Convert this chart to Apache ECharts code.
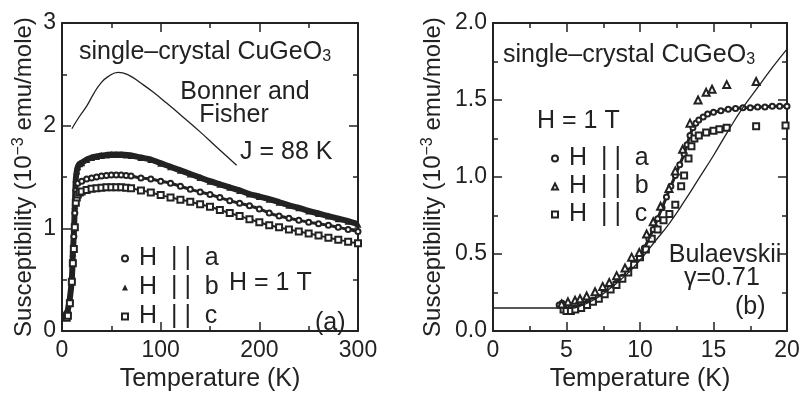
<!DOCTYPE html>
<html>
<head>
<meta charset="utf-8">
<script src="https://cdn.jsdelivr.net/npm/echarts@6/dist/echarts.min.js"></script>
<style>
  html, body { margin: 0; background: #fff; }
  #chart { width: 806px; height: 397px; }
</style>
</head>
<body>
<div id="chart"></div>
<script>
// panel (a): 0-300 K, [T, chi] pairs
const leftA = [[4.5,0.17],[6,0.16],[8,0.28],[10,0.49],[11,0.68],[12,0.92],[13,1.15],[14,1.37],[16,1.44],[20,1.46],[25,1.48],[30,1.49],[35,1.5],[40,1.51],[45,1.515],[50,1.52],[55,1.52],[60,1.52],[65,1.515],[70,1.51],[80,1.49],[90,1.48],[100,1.46],[110,1.44],[120,1.41],[130,1.38],[140,1.355],[150,1.33],[160,1.3],[170,1.27],[180,1.245],[190,1.22],[200,1.19],[210,1.15],[220,1.12],[230,1.1],[240,1.08],[250,1.06],[260,1.045],[270,1.03],[280,1.01],[290,0.99],[300,0.97]]
const leftB = [[4.6,0.17],[6,0.21],[8,0.32],[10,0.51],[11,0.76],[12,0.95],[13,1.22],[14,1.48],[15,1.56],[16,1.6],[18,1.63],[20,1.64],[25,1.67],[30,1.69],[35,1.7],[40,1.71],[45,1.715],[50,1.72],[55,1.72],[60,1.72],[65,1.715],[70,1.71],[80,1.69],[90,1.67],[100,1.635],[110,1.6],[120,1.565],[130,1.53],[140,1.495],[150,1.46],[160,1.43],[170,1.4],[180,1.37],[190,1.335],[200,1.31],[210,1.285],[220,1.255],[230,1.225],[240,1.2],[250,1.17],[260,1.145],[270,1.12],[280,1.095],[290,1.07],[300,1.04]]
const leftC = [[4.8,0.13],[6,0.15],[8,0.27],[10,0.48],[11,0.66],[12,0.8],[13,1.01],[14,1.25],[15,1.3],[16,1.33],[18,1.35],[20,1.36],[25,1.375],[30,1.385],[35,1.39],[40,1.395],[45,1.4],[50,1.4],[55,1.4],[60,1.4],[65,1.395],[70,1.39],[80,1.37],[90,1.35],[100,1.325],[110,1.3],[120,1.28],[130,1.26],[140,1.235],[150,1.21],[160,1.18],[170,1.15],[180,1.12],[190,1.09],[200,1.06],[210,1.03],[220,1.01],[230,0.99],[240,0.97],[250,0.95],[260,0.93],[270,0.91],[280,0.89],[290,0.87],[300,0.855]]
const bonnerFisher = [[10,1.97],[17,2.08],[25,2.19],[32,2.31],[39,2.41],[47,2.48],[57,2.52],[68,2.49],[79,2.42],[92,2.33],[106,2.22],[122,2.09],[140,1.94],[158,1.78],[177,1.615]]

// panel (b): 0-20 K
const rightA = [[4.5,0.17],[4.7,0.18],[5,0.16],[5.3,0.15],[5.6,0.15],[6,0.16],[6.4,0.18],[6.8,0.2],[7.2,0.22],[7.6,0.25],[8,0.28],[8.4,0.31],[8.8,0.35],[9.2,0.39],[9.6,0.44],[10,0.49],[10.3,0.54],[10.6,0.6],[10.9,0.66],[11.2,0.73],[11.5,0.8],[11.8,0.87],[12.1,0.94],[12.4,1.01],[12.7,1.08],[13,1.15],[13.2,1.21],[13.4,1.27],[13.6,1.32],[13.8,1.35],[14,1.37],[14.3,1.39],[14.6,1.41],[15,1.42],[15.5,1.43],[16,1.44],[16.5,1.445],[17,1.45],[17.5,1.45],[18,1.455],[18.5,1.455],[19,1.46],[19.5,1.46],[20,1.46]]
const rightB = [[4.67,0.176],[5.1,0.19],[5.58,0.2],[5.92,0.21],[6.37,0.228],[6.94,0.255],[7.46,0.29],[7.91,0.315],[8.41,0.36],[8.98,0.41],[9.43,0.48],[9.95,0.51],[10.45,0.63],[10.9,0.71],[11.4,0.81],[11.97,0.925],[12.4,1.04],[12.9,1.18],[13.4,1.35],[13.95,1.5],[14.5,1.55],[14.9,1.57],[15.9,1.6],[17.9,1.62]]
const rightC = [[4.8,0.14],[5,0.13],[5.3,0.13],[5.6,0.14],[6,0.15],[6.4,0.17],[6.8,0.19],[7.2,0.21],[7.6,0.24],[8,0.27],[8.4,0.3],[8.8,0.34],[9.2,0.38],[9.6,0.43],[10,0.48],[10.4,0.53],[10.8,0.6],[11.2,0.66],[11.6,0.72],[12,0.76],[12.4,0.82],[12.8,0.94],[13,1.01],[13.3,1.12],[13.5,1.2],[13.7,1.25],[14,1.27],[14.5,1.29],[15,1.3],[15.4,1.31],[15.9,1.32],[17.9,1.33],[19.9,1.335]]
const bulaevskii = [[0,0.15],[5.3,0.15],[6,0.165],[7,0.21],[8,0.28],[9,0.36],[10,0.46],[11,0.58],[12,0.7],[13,0.84],[14,0.99],[15,1.14],[16,1.3],[17,1.45],[18,1.58],[19,1.71],[20,1.83]]

const NAME_A = 'H  | |  a'
const NAME_B = 'H  | |  b'
const NAME_C = 'H  | |  c'

const INK = '#222'
const FONT = 'Liberation Sans'

const chart = echarts.init(document.getElementById('chart'), null, { renderer: 'canvas' })

const yName = '{t|Susceptibility (10}{s|−3}{t| emu/mole)}'
const yNameStyle = {
  fontFamily: FONT,
  color: INK,
  rich: {
    t: { fontSize: 24, fontFamily: FONT, color: INK, lineHeight: 26 },
    s: { fontSize: 16, fontFamily: FONT, color: INK, lineHeight: 8, verticalAlign: 'top' },
  },
}

function xAxisBox(gridIndex, min, max, interval, top) {
  return {
    type: 'value', gridIndex, min, max, interval,
    position: top ? 'top' : 'bottom',
    name: top ? '' : 'Temperature (K)',
    nameLocation: 'middle', nameGap: 30,
    nameTextStyle: { fontSize: 25, fontFamily: FONT, color: INK },
    axisLine: { show: true, onZero: false, lineStyle: { color: INK, width: 2 } },
    axisTick: { show: true, inside: true, length: 9, lineStyle: { color: INK, width: 1.5 } },
    minorTick: { show: true, splitNumber: 2, length: 5, lineStyle: { color: INK, width: 1.5 } },
    axisLabel: { show: !top, fontSize: 23, fontFamily: FONT, color: INK, margin: 8 },
    splitLine: { show: false },
  }
}

function yAxisBox(gridIndex, min, max, interval, right, fmt, gap) {
  return {
    type: 'value', gridIndex, min, max, interval,
    position: right ? 'right' : 'left',
    name: right ? '' : yName,
    nameLocation: 'middle', nameRotate: 90, nameGap: gap,
    nameTextStyle: yNameStyle,
    axisLine: { show: true, onZero: false, lineStyle: { color: INK, width: 2 } },
    axisTick: { show: true, inside: true, length: 9, lineStyle: { color: INK, width: 1.5 } },
    minorTick: { show: true, splitNumber: 2, length: 5, lineStyle: { color: INK, width: 1.5 } },
    axisLabel: { show: !right, fontSize: 23, fontFamily: FONT, color: INK, margin: 6, formatter: fmt },
    splitLine: { show: false },
  }
}

// thick band behind the markers, as the measured points overlap heavily
function band(data, xi, width) {
  return {
    type: 'line', xAxisIndex: xi, yAxisIndex: xi, data,
    symbol: 'none', smooth: 0.3, silent: true,
    lineStyle: { color: INK, width },
    z: 2,
  }
}

function marks(name, data, xi, symbol, size) {
  return {
    type: 'scatter', name, xAxisIndex: xi, yAxisIndex: xi, data,
    symbol, symbolSize: size, silent: true,
    itemStyle: { color: INK, borderWidth: 1, opacity: 1 },
    z: 3,
  }
}

function legendBox(left, top, gap, triIcon) {
  return {
    orient: 'vertical', left, top, itemGap: gap,
    itemWidth: 6, itemHeight: 6, selectedMode: false,
    textStyle: { fontSize: 25, fontFamily: FONT, color: INK, padding: [0, 0, 0, 6] },
    data: [
      { name: NAME_A, icon: 'emptyCircle' },
      { name: NAME_B, icon: triIcon },
      { name: NAME_C, icon: 'emptyRect' },
    ],
  }
}

function label(text, x, y, align, rich) {
  return {
    type: 'text', x, y, silent: true,
    style: {
      text, x: 0, y: 0, align: align || 'left', verticalAlign: 'middle',
      fontSize: 25, fontFamily: FONT, fill: INK, rich,
    },
  }
}

const subRich = {
  t: { fontSize: 25, fontFamily: FONT, fill: INK, lineHeight: 26 },
  s: { fontSize: 16, fontFamily: FONT, fill: INK, lineHeight: 8, verticalAlign: 'bottom' },
}

const option = {
  animation: false,
  backgroundColor: '#fff',
  grid: [
    { left: 62, top: 23, width: 296, height: 322 },
    { left: 493, top: 23, width: 294, height: 322 },
  ],
  xAxis: [
    xAxisBox(0, 0, 300, 100, false),
    xAxisBox(0, 0, 300, 100, true),
    xAxisBox(1, 0, 20, 5, false),
    xAxisBox(1, 0, 20, 5, true),
  ],
  yAxis: [
    yAxisBox(0, 0, 3, 1, false, v => String(v), 25),
    yAxisBox(0, 0, 3, 1, true),
    yAxisBox(1, 0, 2, 0.5, false, v => v.toFixed(1), 47),
    yAxisBox(1, 0, 2, 0.5, true),
  ],
  legend: [
    legendBox(116, 241, 4, 'triangle'),
    legendBox(546, 141, 3, 'emptyTriangle'),
  ],
  series: [
    { type: 'line', xAxisIndex: 0, yAxisIndex: 0, data: bonnerFisher, symbol: 'none', smooth: true, silent: true, lineStyle: { color: INK, width: 1.3 }, z: 4 },
    band(leftB, 0, 6),
    band(leftA, 0, 3),
    band(leftC, 0, 2),
    marks(NAME_B, leftB, 0, 'triangle', 7),
    marks(NAME_A, leftA, 0, 'emptyCircle', 5),
    marks(NAME_C, leftC, 0, 'emptyRect', 6),

    { type: 'line', xAxisIndex: 2, yAxisIndex: 2, data: bulaevskii, symbol: 'none', smooth: true, silent: true, lineStyle: { color: INK, width: 1.3 }, z: 4 },
    band(rightA, 2, 3),
    marks(NAME_A, rightA, 2, 'emptyCircle', 5),
    marks(NAME_C, rightC, 2, 'emptyRect', 6),
    marks(NAME_B, rightB, 2, 'emptyTriangle', 7),
  ],
  graphic: [
    label('{t|single–crystal CuGeO}{s|3}', 79, 52, 'left', subRich),
    label('Bonner and', 245, 92, 'center'),
    label('Fisher', 234, 115, 'center'),
    label('J = 88 K', 240, 152),
    label('H = 1 T', 229, 283),
    label('(a)', 315, 323),

    label('{t|single–crystal CuGeO}{s|3}', 503, 55, 'left', subRich),
    label('H = 1 T', 537, 121),
    label('Bulaevskii', 725, 255, 'center'),
    label('γ=0.71', 722, 278, 'center'),
    label('(b)', 735, 307),
  ],
}

chart.setOption(option)
</script>
</body>
</html>
